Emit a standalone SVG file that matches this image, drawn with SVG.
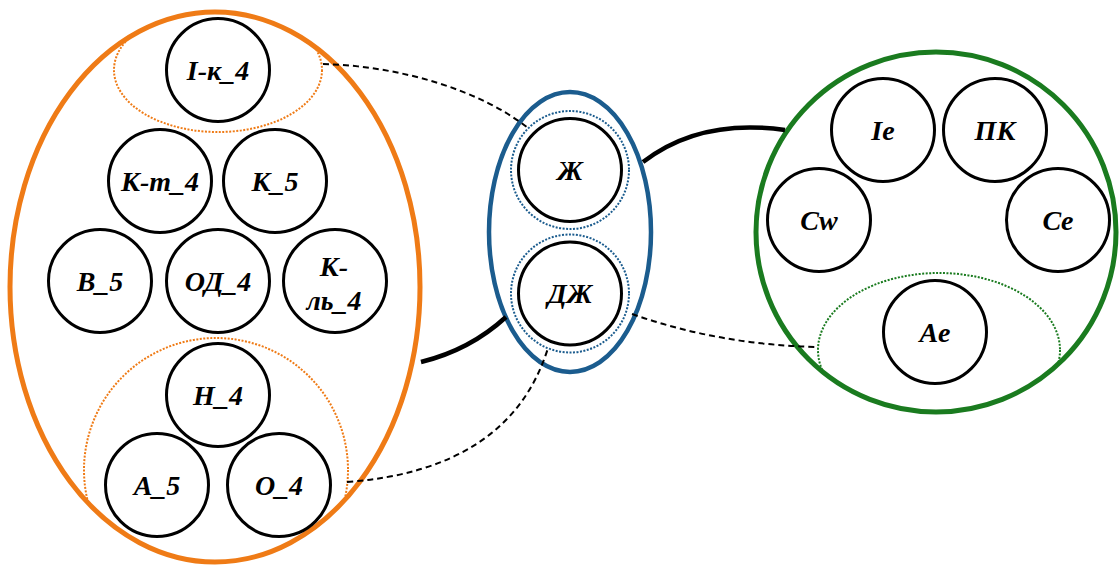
<svg xmlns="http://www.w3.org/2000/svg" width="1120" height="565" viewBox="0 0 1120 565">
<style>
.node{fill:#fff;stroke:#000;stroke-width:3}
.lbl{font-family:"Liberation Serif","Times New Roman",serif;font-weight:bold;font-style:italic;font-size:28px;text-anchor:middle;fill:#000}
.dash{fill:none;stroke:#000;stroke-width:2;stroke-dasharray:6 4}
.solid{fill:none;stroke:#000;stroke-width:4.5}
.dotO{fill:none;stroke:#EF7B16;stroke-width:2;stroke-dasharray:2 1.5}
.dotB{fill:none;stroke:#1B5C8E;stroke-width:2;stroke-dasharray:2 1.5}
.dotG{fill:none;stroke:#1A7B1F;stroke-width:2;stroke-dasharray:2 1.5}
</style>
<defs>
<clipPath id="clipO"><ellipse cx="215" cy="287" rx="205" ry="275"/></clipPath>
<clipPath id="clipG"><circle cx="936" cy="232" r="180"/></clipPath>
</defs>
<rect width="1120" height="565" fill="#fff"/>
<g id="group-left">
<ellipse cx="215" cy="287" rx="205" ry="275" fill="none" stroke="#EF7B16" stroke-width="5"/>
<g clip-path="url(#clipO)">
<ellipse class="dotO" cx="218" cy="70" rx="104" ry="62"/>
<circle class="dotO" cx="216" cy="470" r="132"/>
</g>
</g>
<g id="group-mid">
<ellipse cx="570" cy="232" rx="81" ry="140" fill="none" stroke="#1B5C8E" stroke-width="4.5"/>
<circle class="dotB" cx="570" cy="170" r="59"/>
<circle class="dotB" cx="570" cy="293.5" r="59"/>
</g>
<g id="group-right">
<circle cx="936" cy="232" r="180" fill="none" stroke="#1A7B1F" stroke-width="5"/>
<g clip-path="url(#clipG)">
<ellipse class="dotG" cx="939" cy="350" rx="121" ry="77"/>
</g>
</g>
<g id="n-ik4"><circle class="node" cx="218" cy="70" r="51.5"/><text class="lbl" x="218" y="80">I-к_4</text></g>
<g id="n-kt4"><circle class="node" cx="160" cy="181" r="51.5"/><text class="lbl" x="160" y="191">К-т_4</text></g>
<g id="n-k5"><circle class="node" cx="275" cy="181" r="51.5"/><text class="lbl" x="275" y="191">К_5</text></g>
<g id="n-b5"><circle class="node" cx="100" cy="281" r="51.5"/><text class="lbl" x="100" y="291">В_5</text></g>
<g id="n-od4"><circle class="node" cx="218" cy="281" r="51.5"/><text class="lbl" x="218" y="291">ОД_4</text></g>
<g id="n-kl4"><circle class="node" cx="335" cy="281" r="51.5"/><text class="lbl" x="334" y="276">К-</text><text class="lbl" x="334" y="310">ль_4</text></g>
<g id="n-n4"><circle class="node" cx="218" cy="395" r="51.5"/><text class="lbl" x="218" y="405">Н_4</text></g>
<g id="n-a5"><circle class="node" cx="157" cy="485" r="51.5"/><text class="lbl" x="157" y="495">А_5</text></g>
<g id="n-o4"><circle class="node" cx="279" cy="485" r="51.5"/><text class="lbl" x="279" y="495">О_4</text></g>
<g id="n-zh"><circle class="node" cx="570" cy="170" r="51.5"/><text class="lbl" x="570" y="180">Ж</text></g>
<g id="n-dzh"><circle class="node" cx="570" cy="293.5" r="51.5"/><text class="lbl" x="570" y="303">ДЖ</text></g>
<g id="n-ie"><circle class="node" cx="883" cy="130" r="51.5"/><text class="lbl" x="883" y="140">Ie</text></g>
<g id="n-pk"><circle class="node" cx="995" cy="130" r="51.5"/><text class="lbl" x="995" y="140">ПК</text></g>
<g id="n-cw"><circle class="node" cx="819" cy="220" r="51.5"/><text class="lbl" x="819" y="230">Cw</text></g>
<g id="n-ce"><circle class="node" cx="1058" cy="220" r="51.5"/><text class="lbl" x="1058" y="230">Ce</text></g>
<g id="n-ae"><circle class="node" cx="935" cy="332" r="51.5"/><text class="lbl" x="935" y="342">Ae</text></g>
<g id="connectors">
<path class="dash" d="M323,64 C400,66 480,90 528,128"/>
<path class="solid" d="M421,362 Q470,350 506,317"/>
<path class="solid" d="M643,162 Q700,118 785,130"/>
<path class="dash" d="M632,314 Q720,345 818,347"/>
<path class="dash" d="M347,482 Q510,470 548,348"/>
</g>
</svg>
